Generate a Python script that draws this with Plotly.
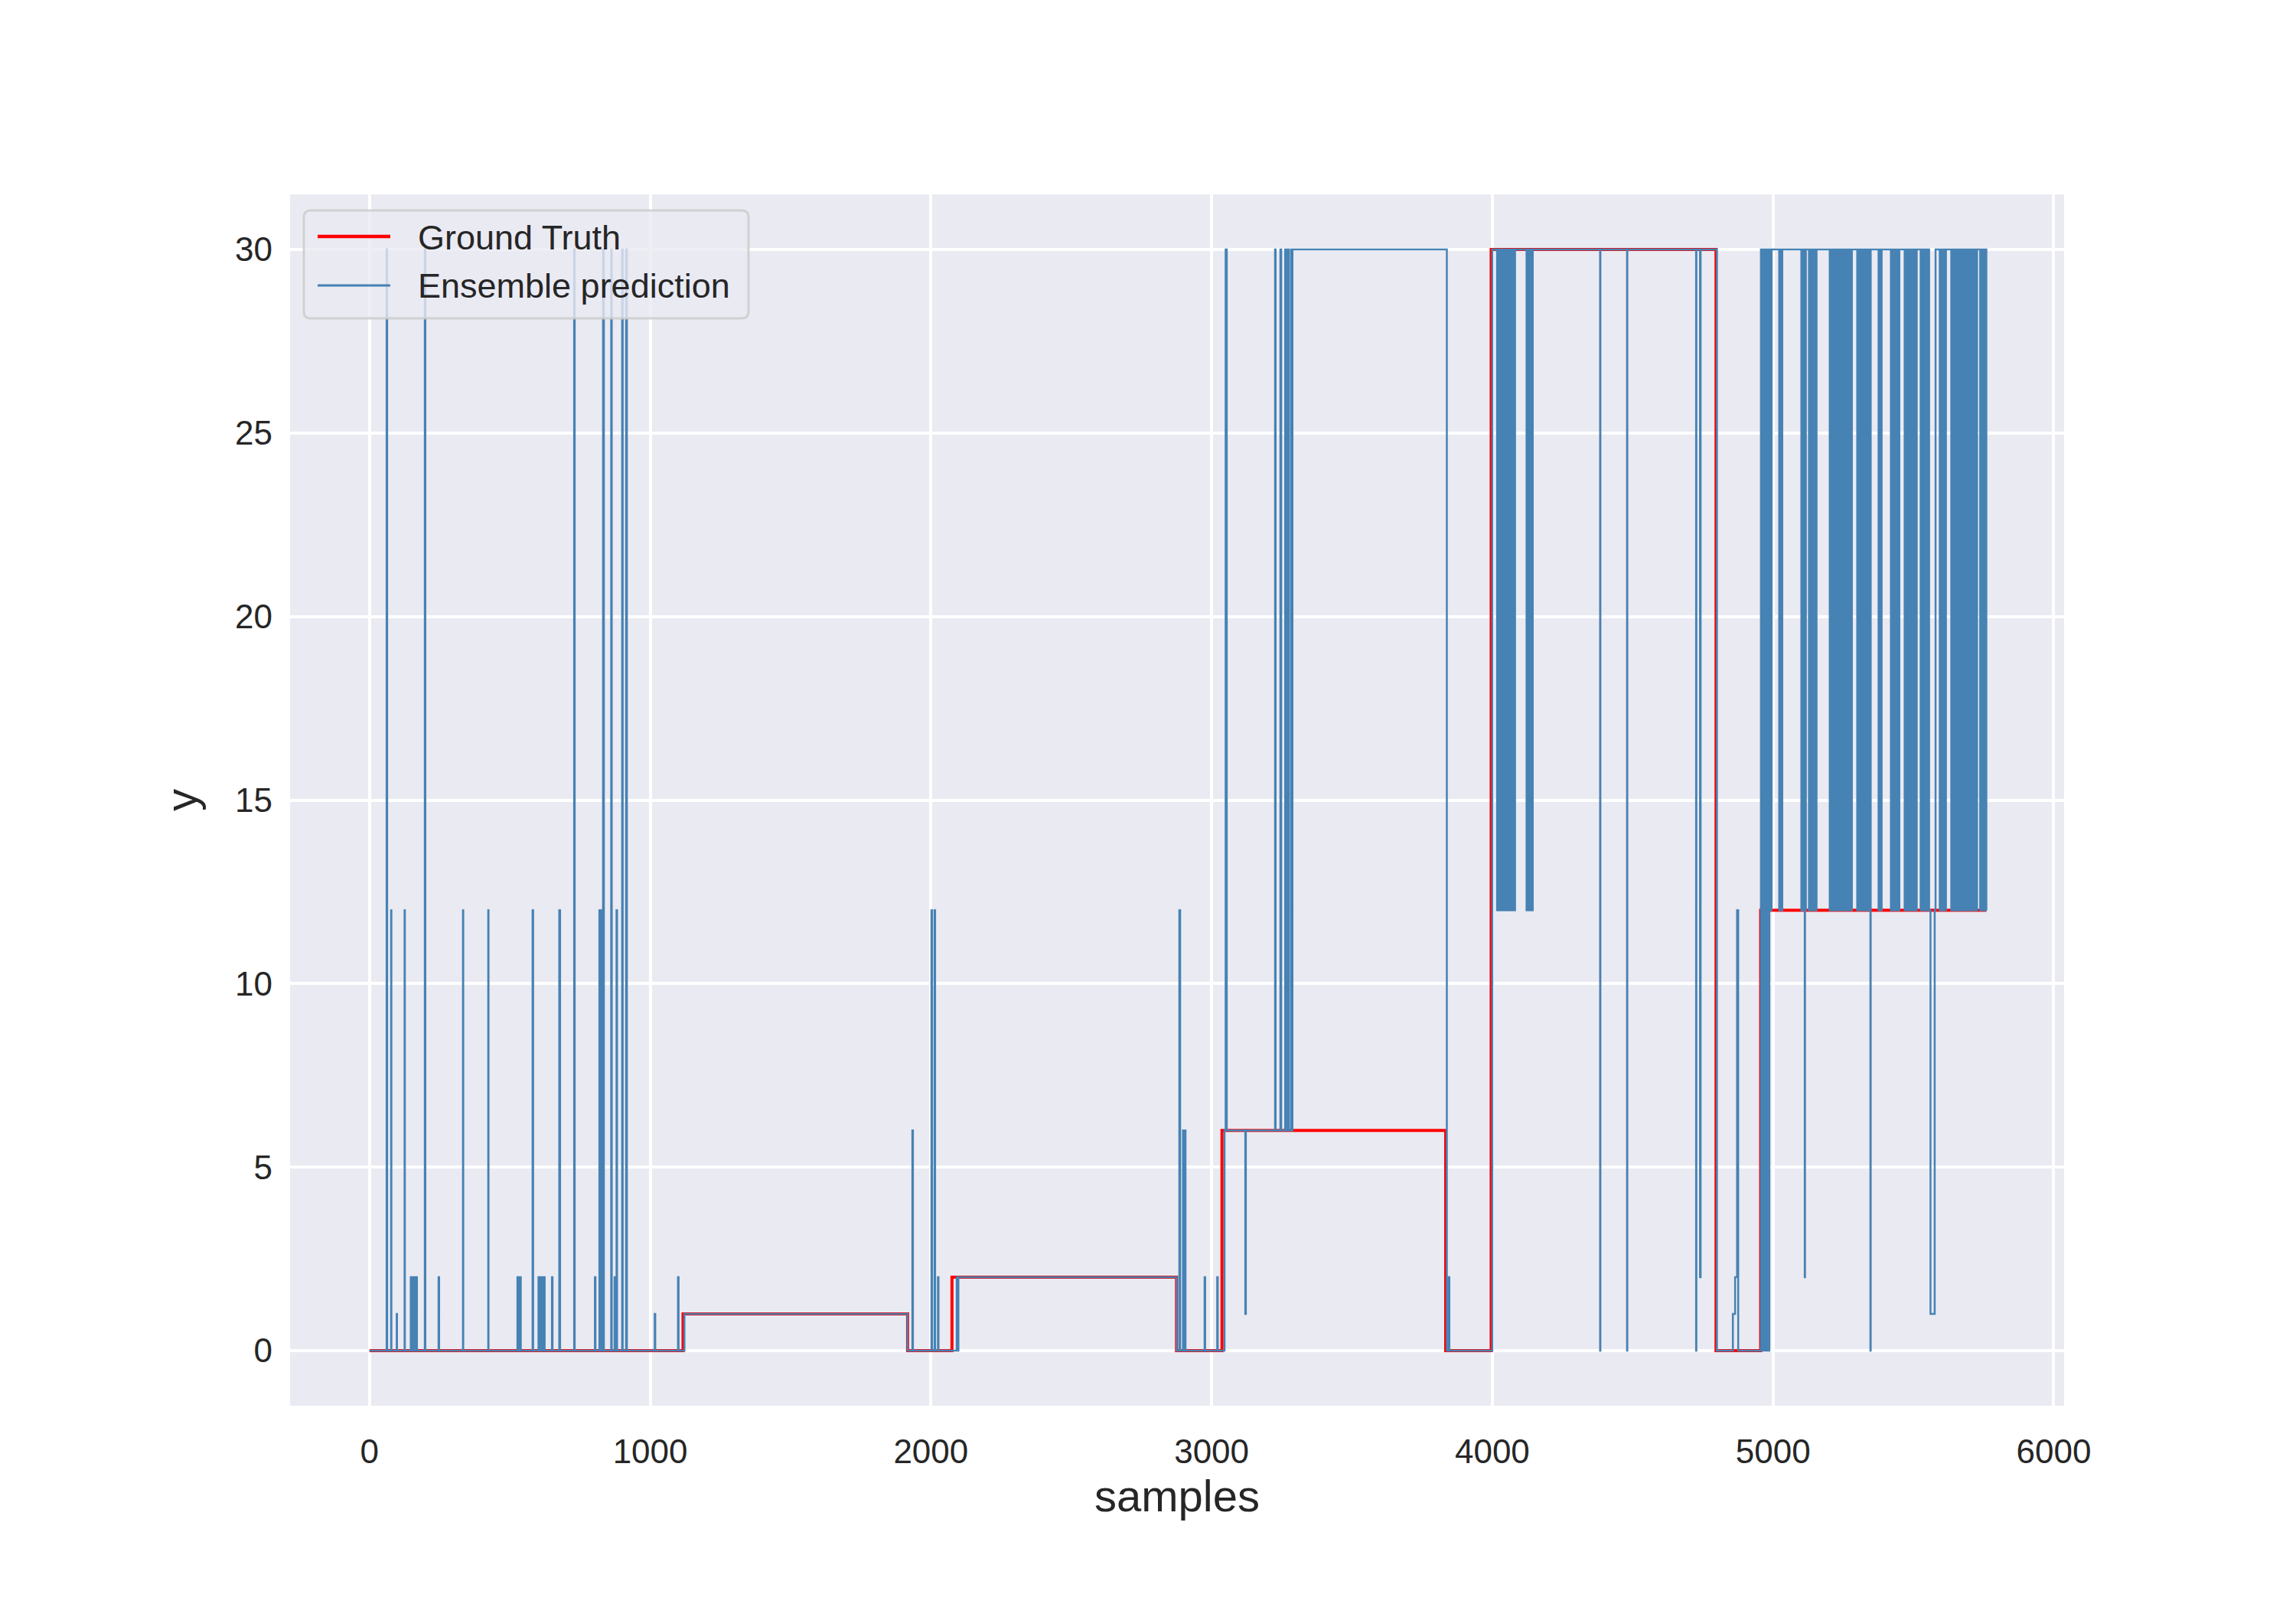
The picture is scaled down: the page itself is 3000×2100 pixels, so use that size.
import plotly.graph_objects as go

# ---------------- data ----------------
gt_x = [0, 1117, 1917, 2075, 2875, 3037, 3834, 3996, 4797, 4956, 5760]
gt_y = [0, 1, 0, 2, 0, 6, 0, 30, 0, 12, 12]

# prediction: (sample index where the value changes, new value)
pred_steps = [
    (0, 0),
    (61, 30), (63, 0), (77, 12), (78, 0), (97, 1), (98, 0), (125, 12), (126, 0),
    (147, 2), (150, 0), (153, 2), (156, 0), (159, 2), (162, 0), (165, 2), (169, 0),
    (197, 30), (199, 0), (246, 2), (248, 0), (333, 12), (334, 0), (423, 12), (424, 0),
    (527, 2), (531, 0), (534, 2), (539, 0), (581, 12), (583, 0),
    (602, 2), (605, 0), (608, 2), (612, 0), (615, 2), (619, 0), (621, 2), (624, 0),
    (650, 2), (652, 0), (676, 12), (679, 0), (729, 30), (731, 0), (803, 2), (805, 0),
    (819, 12), (823, 0), (826, 12), (830, 0), (832, 30), (835, 0),
    (861, 30), (863, 0), (873, 2), (874, 0), (880, 12), (882, 0),
    (900, 30), (902, 0), (914, 30), (917, 0), (1016, 1), (1018, 0), (1099, 2), (1101, 0),
    (1122, 1),
    (1917, 0), (1934, 6), (1936, 0), (2002, 12), (2004, 0), (2013, 12), (2015, 0),
    (2025, 2), (2027, 0), (2092, 2), (2095, 0), (2098, 2),
    (2875, 0), (2885, 12), (2888, 0), (2898, 6), (2901, 0), (2904, 6), (2907, 0),
    (2975, 2), (2977, 0), (3020, 2), (3022, 0),
    (3046, 6), (3050, 30), (3054, 6), (3120, 1), (3122, 6),
    (3226, 30), (3228, 6), (3245, 30), (3248, 6),
    (3262, 30), (3265, 6), (3267, 30), (3270, 6), (3272, 30), (3275, 6),
    (3283, 30), (3286, 6), (3288, 30),
    (3838, 0), (3845, 2), (3847, 0),
    (4000, 30),
    (4017, 12), (4020, 30), (4023, 12), (4026, 30), (4029, 12), (4032, 30),
    (4035, 12), (4038, 30), (4040, 12), (4043, 30),
    (4046, 12), (4049, 30), (4052, 12), (4055, 30), (4058, 12), (4061, 30),
    (4064, 12), (4067, 30), (4070, 12), (4073, 30), (4076, 12), (4081, 30),
    (4122, 12), (4125, 30), (4128, 12), (4131, 30), (4134, 12), (4137, 30),
    (4140, 12), (4144, 30),
    (4384, 0), (4385, 30), (4480, 0), (4481, 30), (4726, 0), (4727, 30),
    (4740, 2), (4742, 30),
    (4800, 0), (4857, 1), (4865, 2), (4872, 12), (4876, 0),
    (4957, 30), (4959, 0), (4962, 30), (4964, 12), (4966, 0), (4969, 30), (4971, 0),
    (4974, 12), (4976, 30), (4978, 0), (4981, 30), (4983, 12), (4985, 0), (4987, 30),
    (4989, 12), (4991, 30), (4993, 12), (4995, 30),
    (5022, 12), (5025, 30), (5028, 12), (5033, 30),
    (5101, 12), (5104, 30), (5107, 12), (5110, 30), (5112, 12), (5113, 2), (5114, 12), (5117, 30),
    (5128, 12), (5131, 30), (5134, 12), (5137, 30), (5140, 12), (5143, 30),
    (5146, 12), (5149, 30), (5152, 12), (5155, 30),
    (5202, 12), (5205, 30), (5208, 12), (5211, 30), (5214, 12), (5217, 30),
    (5220, 12), (5223, 30), (5226, 12), (5229, 30), (5232, 12), (5235, 30),
    (5238, 12), (5241, 30), (5244, 12), (5247, 30), (5250, 12), (5253, 30),
    (5256, 12), (5259, 30), (5261, 12), (5264, 30),
    (5267, 12), (5270, 30), (5273, 12), (5276, 30), (5278, 12), (5281, 30),
    (5300, 12), (5303, 30), (5306, 12), (5309, 30), (5312, 12), (5315, 30),
    (5317, 12), (5319, 30),
    (5321, 12), (5324, 30), (5327, 12), (5330, 30), (5332, 12), (5335, 30),
    (5338, 12), (5341, 30), (5343, 12), (5346, 30), (5347, 0), (5348, 30),
    (5376, 12), (5379, 30), (5382, 12), (5387, 30),
    (5420, 12), (5423, 30), (5426, 12), (5430, 30),
    (5433, 12), (5436, 30), (5439, 12), (5442, 30), (5445, 12), (5450, 30),
    (5469, 12), (5472, 30), (5475, 12), (5478, 30), (5481, 12), (5484, 30),
    (5487, 12), (5490, 30), (5493, 12), (5496, 30), (5499, 12), (5502, 30),
    (5505, 12), (5508, 30), (5509, 12), (5512, 30),
    (5526, 12), (5529, 30), (5532, 12), (5535, 30), (5538, 12), (5541, 30),
    (5544, 12), (5547, 30), (5550, 12), (5553, 30), (5556, 12), (5561, 1),
    (5576, 12), (5579, 30),
    (5594, 12), (5597, 30), (5600, 12), (5603, 30), (5606, 12), (5609, 30),
    (5612, 12), (5616, 30),
    (5635, 12), (5638, 30), (5641, 12), (5644, 30), (5647, 12), (5651, 30),
    (5657, 12), (5660, 30), (5662, 12), (5665, 30),
    (5670, 12), (5673, 30), (5676, 12), (5679, 30), (5682, 12), (5685, 30),
    (5688, 12), (5691, 30), (5694, 12), (5697, 30), (5700, 12), (5703, 30),
    (5706, 12), (5709, 30), (5712, 12), (5715, 30), (5718, 12), (5721, 30),
    (5724, 12), (5727, 30),
    (5738, 12), (5741, 30), (5744, 12), (5747, 30), (5750, 12), (5753, 30),
    (5755, 12), (5758, 30), (5760, 12),
]
pred_x = [s[0] for s in pred_steps]
pred_y = [s[1] for s in pred_steps]

x_ticks = [0, 1000, 2000, 3000, 4000, 5000, 6000]
y_ticks = [0, 5, 10, 15, 20, 25, 30]
legend_labels = ["Ground Truth", "Ensemble prediction"]

# ---------------- layout constants ----------------
W, H = 3000, 2100
OFF = 8  # page body margin of the html page
L, R, T, B = 379 - OFF, 2697 - OFF, 254 - OFF, 1837 - OFF   # plot area in pixels
FONT = "Liberation Sans, Arial, DejaVu Sans, sans-serif"
TXT = "#262626"
RED = "#ff0000"
BLUE = "#4682b4"


def px(xp):
    return (xp - OFF - L) / (R - L)


def py(yp):
    return (B - (yp - OFF)) / (B - T)


fig = go.Figure()
fig.add_trace(go.Scatter(
    x=gt_x, y=gt_y, mode="lines", name=legend_labels[0],
    line=dict(color=RED, width=4, shape="hv", simplify=False),
    showlegend=False, hoverinfo="skip"))
fig.add_trace(go.Scatter(
    x=pred_x, y=pred_y, mode="lines", name=legend_labels[1],
    line=dict(color=BLUE, width=2.5, shape="hv", simplify=False),
    showlegend=False, hoverinfo="skip"))

# ---------------- custom legend (matplotlib style) ----------------
bx0, bx1, by0, by1 = 397, 978, 275, 416
rr = 9
x0, x1 = px(bx0), px(bx1)
y0, y1 = py(by1), py(by0)
rx = rr / (R - L)
ry = rr / (B - T)
path = (f"M{x0+rx},{y1} L{x1-rx},{y1} Q{x1},{y1} {x1},{y1-ry} "
        f"L{x1},{y0+ry} Q{x1},{y0} {x1-rx},{y0} "
        f"L{x0+rx},{y0} Q{x0},{y0} {x0},{y0+ry} "
        f"L{x0},{y1-ry} Q{x0},{y1} {x0+rx},{y1} Z")
shapes = [
    dict(type="path", xref="paper", yref="paper", path=path,
         fillcolor="rgba(234,234,242,0.8)",
         line=dict(color="rgba(204,204,204,0.85)", width=3), layer="above"),
    dict(type="line", xref="paper", yref="paper", x0=px(415), x1=px(510),
         y0=py(309), y1=py(309), line=dict(color=RED, width=4.5), layer="above"),
    dict(type="line", xref="paper", yref="paper", x0=px(415), x1=px(510),
         y0=py(373), y1=py(373), line=dict(color=BLUE, width=2.8), layer="above"),
]
annotations = [
    dict(xref="paper", yref="paper", x=px(544), y=py(310), text=legend_labels[0],
         showarrow=False, xanchor="left", yanchor="middle",
         font=dict(family=FONT, size=45, color=TXT)),
    dict(xref="paper", yref="paper", x=px(544), y=py(373), text=legend_labels[1],
         showarrow=False, xanchor="left", yanchor="middle",
         font=dict(family=FONT, size=45, color=TXT)),
]

fig.update_layout(
    width=W, height=H,
    margin=dict(l=L, r=W - R, t=T, b=H - B, autoexpand=False),
    paper_bgcolor="white", plot_bgcolor="#eaeaf2",
    font=dict(family=FONT, color=TXT),
    shapes=shapes, annotations=annotations,
    showlegend=False,
)
fig.update_xaxes(
    range=[-283, 6037], tickvals=x_ticks, ticktext=[str(v) for v in x_ticks],
    showgrid=True, gridcolor="white", gridwidth=4, zeroline=False, showline=False,
    ticks="", ticklabelstandoff=30, tickfont=dict(family=FONT, size=44, color=TXT),
    title=dict(text="samples", font=dict(family=FONT, size=58, color=TXT), standoff=14),
)
fig.update_yaxes(
    range=[-1.5, 31.5], tickvals=y_ticks, ticktext=[str(v) for v in y_ticks],
    showgrid=True, gridcolor="white", gridwidth=4, zeroline=False, showline=False,
    ticks="", ticklabelstandoff=22, tickfont=dict(family=FONT, size=44, color=TXT),
    title=dict(text="y", font=dict(family=FONT, size=58, color=TXT), standoff=30),
)

fig.write_html("out.html")
